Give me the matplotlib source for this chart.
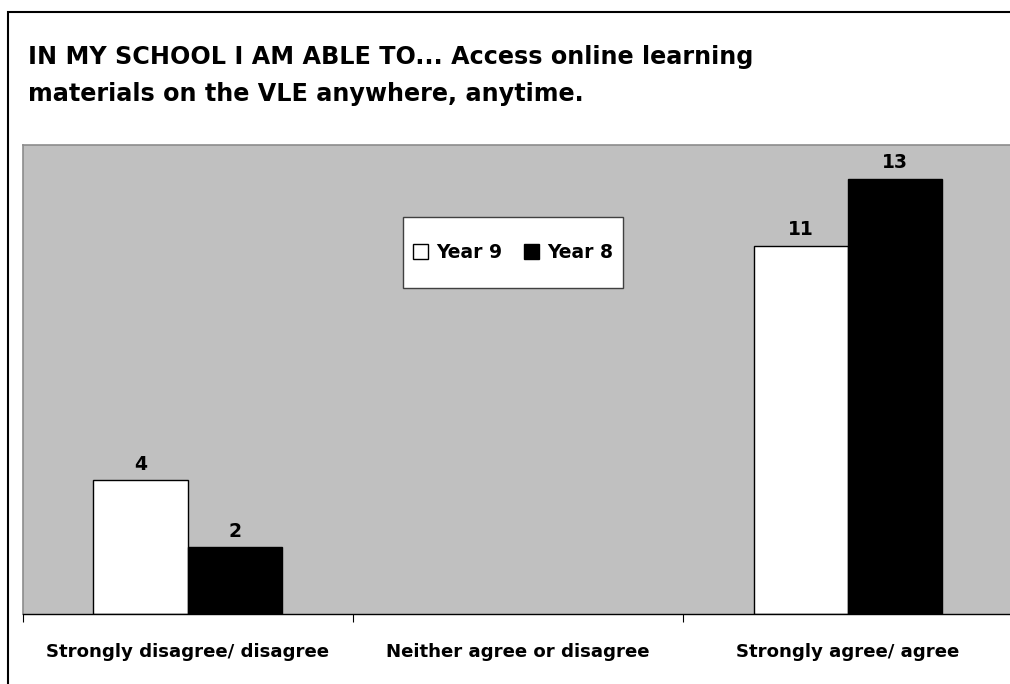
import numpy as np
import matplotlib
matplotlib.use("Agg")
import matplotlib.pyplot as plt
import matplotlib.patches as mp

categories = ["Strongly disagree/ disagree", "Neither agree or disagree", "Strongly agree/ agree"]
year9 = [4, 0, 11]
year8 = [2, 0, 13]
series = [("Year 9", year9, "white"), ("Year 8", year8, "black")]
title_lines = ["IN MY SCHOOL I AM ABLE TO... Access online learning",
               "materials on the VLE anywhere, anytime."]

plt.rcParams["font.family"] = ["DejaVu Sans"]
plt.rcParams["font.weight"] = "bold"
FS = 13.5

W, H = 1010, 684
fig = plt.figure(figsize=(W/100, H/100), dpi=100)
# outer chart frame (runs off the right/bottom edge like the original)
fig.patches.append(mp.Rectangle((8/W, -0.05), 1.1, 1 - 12/H + 0.05, transform=fig.transFigure,
                                fill=False, ec="black", lw=1.5))
for yb, line in zip([64, 101], title_lines):
    fig.text(28/W, 1 - yb/H, line, ha="left", va="baseline", fontsize=17.2, fontweight="bold")

ax = fig.add_axes([22.5/W, 1 - 614/H, (1013 - 22.5)/W, (614 - 145)/H])
ax.set_facecolor("#c0c0c0")
x = np.arange(len(categories))
bw = 0.285
handles = []
for i, (name, vals, col) in enumerate(series):
    off = (i - 0.5) * bw
    bars = ax.bar(x + off, vals, bw, color=col, edgecolor="black", lw=1.0, label=name)
    handles.append(bars)
    for b, v in zip(bars, vals):
        if v == 0:
            b.set_linewidth(0)
            continue
        ax.annotate(str(v), (b.get_x() + b.get_width()/2, v), xytext=(0, 4.5),
                    textcoords="offset points", ha="center", va="bottom",
                    fontsize=FS, fontweight="bold")

ax.set_xlim(-0.5, 2.5)
ax.set_ylim(0, 14)
ax.set_yticks([])
ax.set_xticks(x)
ax.set_xticklabels(categories, fontsize=13.1, fontweight="bold")
ax.tick_params(axis="x", which="major", length=0, pad=21)
ax.set_xticks([-0.5, 0.5, 1.5, 2.5], minor=True)
ax.tick_params(axis="x", which="minor", length=6, width=0.8, direction="out")
for s in ("top", "left", "right"):
    ax.spines[s].set_color("#8c8c8c")
    ax.spines[s].set_linewidth(1.2)
ax.spines["bottom"].set_color("black")
ax.spines["bottom"].set_linewidth(1.0)

# legend box
lx0, ly0, lx1, ly1 = 403, 217, 623, 288
fig.patches.append(mp.Rectangle((lx0/W, 1 - ly1/H), (lx1 - lx0)/W, (ly1 - ly0)/H,
                                transform=fig.transFigure, fc="white", ec="#404040",
                                lw=1.0, zorder=5))
leg = fig.legend(handles=handles, labels=[s[0] for s in series], loc="center",
                 bbox_to_anchor=((lx0 + lx1)/2/W, 1 - (ly0 + ly1)/2/H),
                 ncol=2, frameon=False, fontsize=FS, handlelength=0.8,
                 handleheight=0.8, columnspacing=1.15, handletextpad=0.43,
                 borderpad=0.2)
leg.set_zorder(6)

fig.savefig("out.png", dpi=100)
